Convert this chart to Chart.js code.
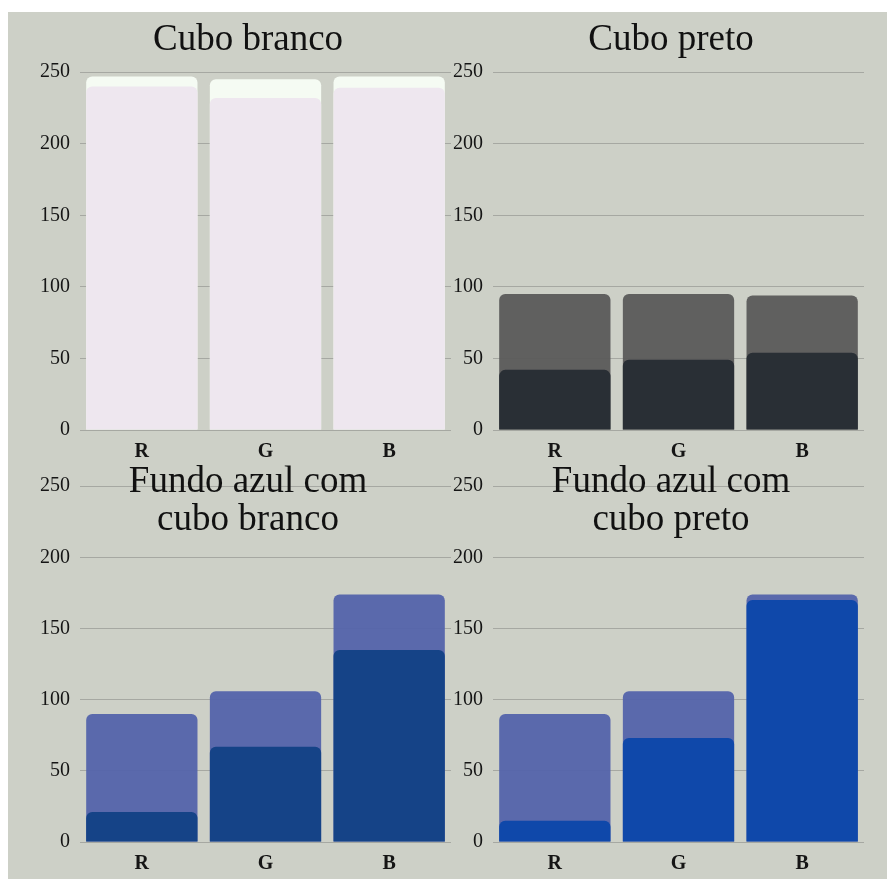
<!DOCTYPE html>
<html lang="pt">
<head>
<meta charset="utf-8">
<title>Cubos RGB</title>
<script src="https://cdn.jsdelivr.net/npm/chart.js@4.4.0/dist/chart.umd.min.js"></script>
<style>
    body { margin: 0; background: #ffffff; width: 887px; height: 879px; position: relative; overflow: hidden; }
    #fundo { position: absolute; left: 8px; top: 12px; right: 0; bottom: 0; background: #cdd0c7; }
    canvas { position: absolute; }
</style>
</head>
<body>
<div id="fundo"></div>
<canvas id="cuboBranco" width="486" height="470" style="left:0;top:0"></canvas>
<canvas id="cuboPreto" width="454" height="470" style="left:440px;top:0"></canvas>
<canvas id="azulBranco" width="486" height="442" style="left:0;top:440px"></canvas>
<canvas id="azulPreto" width="454" height="442" style="left:440px;top:440px"></canvas>
<script>
// Canais medidos (0-255)
const categorias = ['R', 'G', 'B'];
const brancoFundo = [247, 245, 247];
const brancoCubo = [240, 232, 239];
const pretoFundo = [95, 95, 94];
const pretoCubo = [42, 49, 54];
const azulBrancoFundo = [90, 106, 174];
const azulBrancoCubo = [21, 67, 135];
const azulPretoFundo = [90, 106, 174];
const azulPretoCubo = [15, 73, 170];
const escalaY = { min: 0, max: 250, passo: 50 };

Chart.defaults.font.family = '"Liberation Serif", "Times New Roman", serif';
Chart.defaults.color = '#151515';

function criarGrafico(id, titulo, fundo, cubo, corFundo, corCubo, caixa) {
    const ctx = document.getElementById(id).getContext('2d');
    return new Chart(ctx, {
        type: 'bar',
        data: {
            labels: categorias,
            datasets: [{
                label: 'Cubo',
                data: cubo,
                backgroundColor: corCubo,
                borderRadius: 6,
                order: 0
            }, {
                label: 'Fundo',
                data: fundo,
                backgroundColor: corFundo,
                borderRadius: 6,
                order: 1
            }]
        },
        options: {
            responsive: false,
            animation: false,
            events: [],
            layout: { padding: caixa.padding },
            datasets: {
                bar: { grouped: false, categoryPercentage: 1, barPercentage: 0.9 }
            },
            plugins: {
                legend: { display: false },
                tooltip: { enabled: false },
                title: {
                    display: true,
                    text: titulo,
                    color: '#111111',
                    font: { size: 37, weight: 'normal', lineHeight: 1.03 },
                    padding: caixa.titulo
                }
            },
            scales: {
                x: {
                    grid: { display: false },
                    border: { display: false },
                    ticks: { padding: 2, font: { size: 20, weight: 'bold' }, color: '#151515' },
                    afterFit: s => { s.height = 40; }
                },
                y: {
                    min: escalaY.min,
                    max: escalaY.max,
                    grid: { color: '#a6a8a2', lineWidth: 1, drawTicks: false },
                    border: { display: false },
                    ticks: { stepSize: escalaY.passo, padding: 10, font: { size: 20 }, color: '#151515' },
                    afterFit: s => { s.width = caixa.eixo; }
                },
                // folga à direita para centrar o título
                folga: {
                    type: 'linear',
                    position: 'right',
                    grid: { display: false },
                    border: { display: false },
                    ticks: { display: false },
                    afterFit: s => { s.width = caixa.folga; }
                }
            }
        }
    });
}

const esquerda = { eixo: 50, folga: 15 };
const direita = { eixo: 45, folga: 30 };

criarGrafico('cuboBranco', 'Cubo branco', brancoFundo, brancoCubo, '#f5fbf3', '#eee7ef',
    Object.assign({ padding: { left: 30, right: 20, top: 0, bottom: 0 }, titulo: { top: 21, bottom: 13 } }, esquerda));
criarGrafico('cuboPreto', 'Cubo preto', pretoFundo, pretoCubo, 'rgba(90, 90, 90, 0.95)', '#292f35',
    Object.assign({ padding: { left: 8, right: 0, top: 0, bottom: 0 }, titulo: { top: 21, bottom: 13 } }, direita));
criarGrafico('azulBranco', ['Fundo azul com', 'cubo branco'], azulBrancoFundo, azulBrancoCubo, 'rgba(83, 99, 171, 0.95)', '#154387',
    Object.assign({ padding: { left: 30, right: 20, top: 0, bottom: 0 }, titulo: { top: 23, bottom: -53 } }, esquerda));
criarGrafico('azulPreto', ['Fundo azul com', 'cubo preto'], azulPretoFundo, azulPretoCubo, 'rgba(83, 99, 171, 0.95)', '#0f48aa',
    Object.assign({ padding: { left: 8, right: 0, top: 0, bottom: 0 }, titulo: { top: 23, bottom: -53 } }, direita));
</script>
</body>
</html>
